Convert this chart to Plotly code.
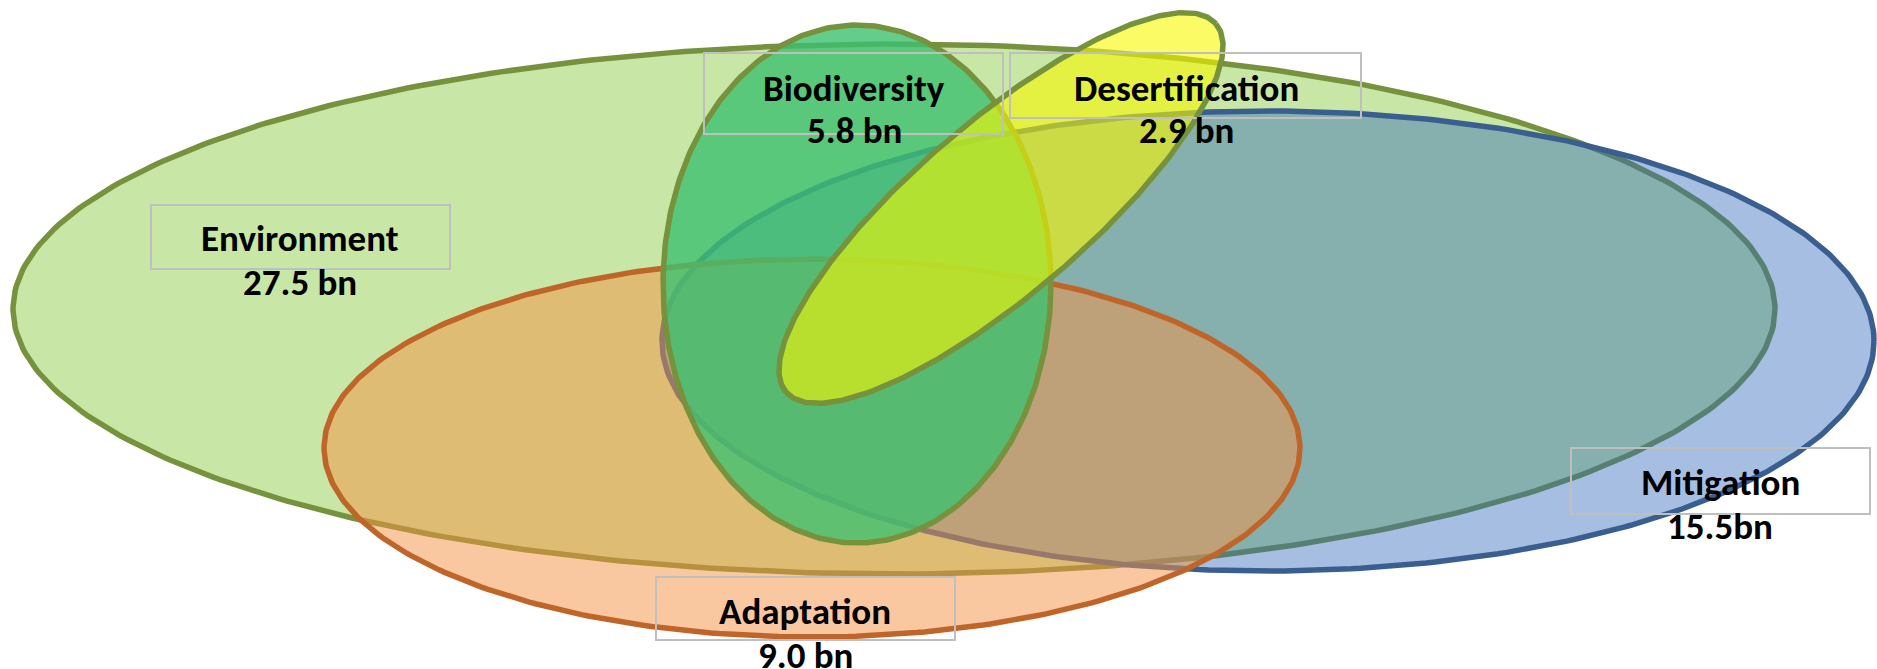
import numpy as np
import plotly.graph_objects as go

# ---- data ----
categories = ["Environment", "Mitigation", "Adaptation", "Biodiversity", "Desertification"]
amounts_bn = [27.5, 15.5, 9.0, 5.8, 2.9]
amount_labels = ["27.5 bn", "15.5bn", "9.0 bn", "5.8 bn", "2.9 bn"]

# ---- geometry (pixel-like coordinates, y down) ----
W, H = 1877, 669
ellipses = {
    "Environment":     dict(cx=894,  cy=309, a=881, b=265, ang=0.0),
    "Mitigation":      dict(cx=1268, cy=341, a=606, b=230, ang=0.0),
    "Adaptation":      dict(cx=812,  cy=448, a=488, b=189, ang=0.0),
    "Biodiversity":    dict(cx=857,  cy=284, a=194, b=259, ang=0.0),
    "Desertification": dict(cx=1001, cy=208, a=283, b=86,  ang=40.6),
}
styles = {
    "Environment":     dict(fill="rgb(200,230,165)",        line="#76923c"),
    "Mitigation":      dict(fill="rgba(46,104,186,0.43)",   line="#3b5e91"),
    "Adaptation":      dict(fill="rgba(245,145,65,0.5)",    line="#c0652a"),
    "Biodiversity":    dict(fill="rgba(61,192,111,0.8)",    line="#76923c"),
    "Desertification": dict(fill="rgba(248,248,0,0.6)",     line="#76923c"),
}
boxes = {
    "Environment":     (151, 205, 450, 269),
    "Biodiversity":    (704, 53, 1003, 134),
    "Desertification": (1010, 53, 1361, 118),
    "Mitigation":      (1571, 448, 1870, 514),
    "Adaptation":      (656, 577, 955, 640),
}
text_pos = {
    "Environment":     (300, 238, 282),
    "Biodiversity":    (854, 88, 130),
    "Desertification": (1186, 88, 130),
    "Mitigation":      (1720, 482, 526),
    "Adaptation":      (805, 611, 655),
}

FONT = "Carlito, Lato, sans-serif"
FSIZE = 37

fig = go.Figure()
t = np.linspace(0, 2 * np.pi, 400)
for name in ["Environment", "Mitigation", "Adaptation", "Biodiversity", "Desertification"]:
    e = ellipses[name]
    th = np.radians(e["ang"])
    dx, dy = np.cos(th), -np.sin(th)
    px, py = np.sin(th), np.cos(th)
    xs = e["cx"] + e["a"] * np.cos(t) * dx + e["b"] * np.sin(t) * px
    ys = e["cy"] + e["a"] * np.cos(t) * dy + e["b"] * np.sin(t) * py
    fig.add_trace(go.Scatter(
        x=xs, y=ys, mode="lines", fill="toself",
        fillcolor=styles[name]["fill"],
        line=dict(color=styles[name]["line"], width=5.5),
        hoverinfo="skip", showlegend=False, name=name,
    ))

for name, amt_label in zip(categories, amount_labels):
    x0, y0, x1, y1 = boxes[name]
    fig.add_shape(type="rect", x0=x0, y0=y0, x1=x1, y1=y1,
                  line=dict(color="#bfbfbf", width=2), fillcolor="rgba(0,0,0,0)",
                  layer="above")
    tx, ty1, ty2 = text_pos[name]
    fig.add_annotation(x=tx, y=ty1, text=f"<b>{name}</b>", showarrow=False,
                       font=dict(family=FONT, size=FSIZE, color="black"),
                       xanchor="center", yanchor="middle")
    fig.add_annotation(x=tx, y=ty2, text=f"<b>{amt_label}</b>", showarrow=False,
                       font=dict(family=FONT, size=FSIZE, color="black"),
                       xanchor="center", yanchor="middle")

fig.update_layout(
    width=W, height=H,
    margin=dict(l=0, r=0, t=0, b=0),
    paper_bgcolor="white", plot_bgcolor="white",
    xaxis=dict(range=[0, W], visible=False, fixedrange=True),
    yaxis=dict(range=[H, 0], visible=False, fixedrange=True),
    showlegend=False,
)
fig.write_html("out.html", config={"displayModeBar": False},
               post_script="document.body.style.margin='0';document.body.style.overflow='hidden';")
